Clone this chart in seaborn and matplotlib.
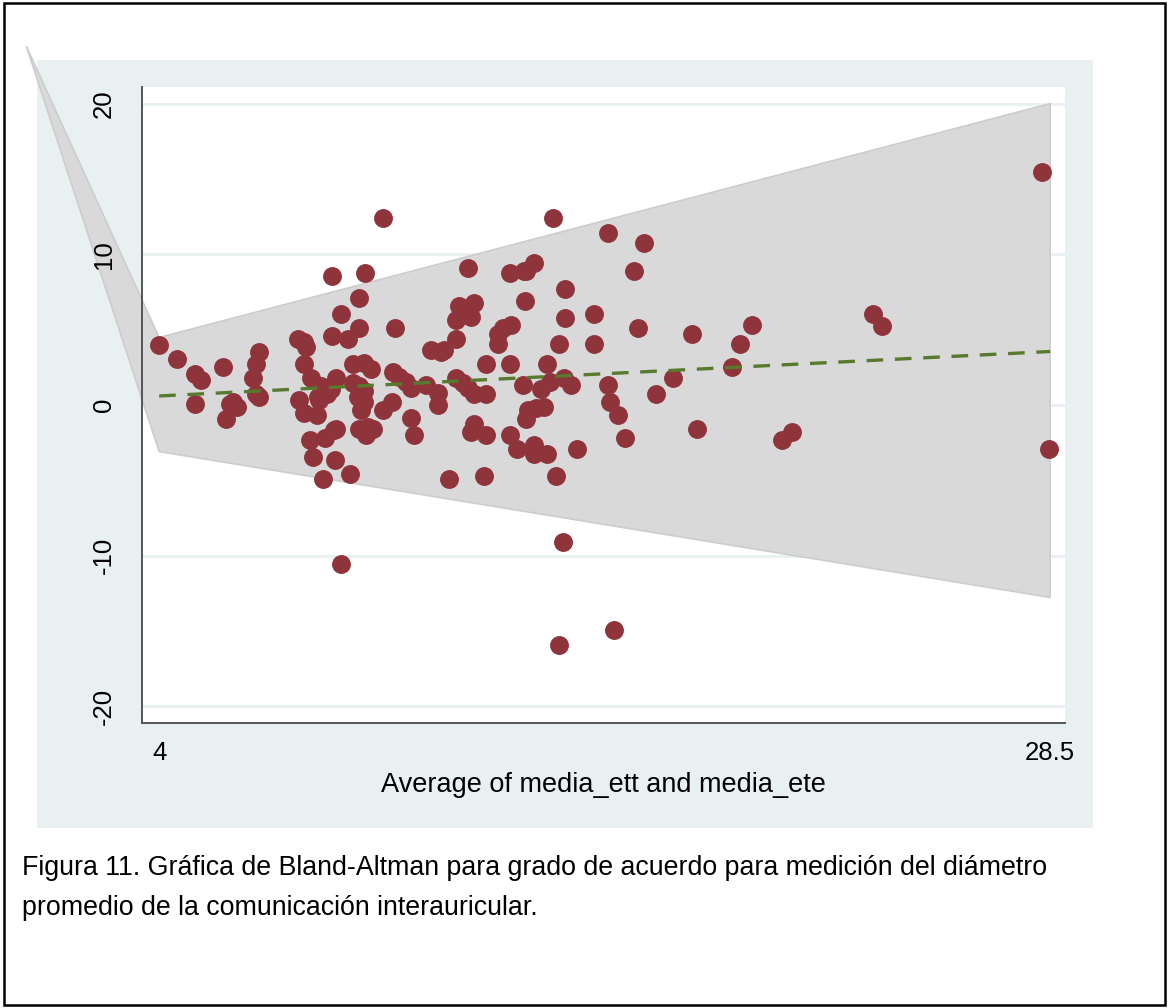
import numpy as np
import pandas as pd
import seaborn as sns
import matplotlib.pyplot as plt
from matplotlib.patches import Rectangle

# valores (promedio, diferencia)
avg_vals = [
    4.00, 4.49, 4.99, 5.15, 4.99, 5.76, 5.84, 5.95, 6.03, 6.14, 6.58, 6.66, 6.75, 6.66, 6.75,
    7.82, 7.98, 8.04, 7.98, 8.17, 7.85, 7.98, 8.34, 8.39, 8.45, 8.59, 8.37, 8.61, 8.15, 8.56,
    8.81, 8.23, 8.83, 8.50, 8.75, 8.75, 9.00, 8.86, 9.18, 9.00, 8.72,
    10.15, 9.66, 9.49, 9.49, 10.48, 9.33, 9.63, 9.82, 9.33, 9.49, 9.63, 10.43, 10.59, 10.78,
    10.92, 9.47, 9.63, 9.55, 10.40, 10.15, 10.92, 11.00, 8.86, 9.49, 9.74, 9.88, 9.69, 9.25,
    12.49, 12.24, 12.65, 12.16, 12.57, 12.16, 11.47, 11.75, 11.83, 12.98, 11.33, 11.66, 11.66,
    12.16, 12.35, 12.49, 12.65, 12.98, 12.65, 12.57, 12.98, 11.96, 12.93,
    13.31, 13.45, 13.67, 13.31, 13.64, 13.64, 14.02, 14.05, 14.08, 14.30, 14.00, 14.49, 14.74,
    13.64, 13.83, 14.13, 14.08, 14.35, 14.57, 14.30, 14.30, 14.66, 14.82, 15.15, 15.15, 14.99,
    14.66, 14.90, 15.10, 14.99,
    15.12, 15.32, 15.48, 15.97, 15.97, 16.33, 16.33, 16.39, 16.63, 16.80, 16.50, 17.05, 17.16,
    17.32, 17.65, 18.14, 18.64, 18.80,
    19.74, 19.98, 20.31, 21.14, 21.39, 23.64, 23.88, 28.28, 28.47,
]
diff_vals = [
    4.01, 3.02, 2.09, 1.69, 0.10, 2.55, -0.90, 0.10, 0.23, -0.10, 1.82, 2.75, 3.55, 0.70, 0.50,
    4.35, 4.15, 3.82, 2.75, 1.76, 0.36, -0.56, -0.63, 0.36, 1.23, 1.03, 0.56, 0.76, -2.29, -2.16,
    -1.63, -3.48, -3.62, -4.94, 8.53, 4.55, 6.01, 1.82, 4.41, -10.58, 1.03,
    12.38, 8.73, 7.07, 5.08, 5.08, 2.75, 2.82, 2.36, 1.49, 1.23, 0.90, 2.22, 1.89, 1.56,
    1.16, 0.56, 0.17, -0.30, 0.23, -0.30, -0.83, -1.96, -1.56, -1.56, -1.49, -1.56, -1.96, -4.61,
    9.06, 6.54, 6.74, 5.67, 5.81, 4.35, 3.68, 3.55, 3.68, 2.75, 1.36, 0.83, 0.03,
    1.82, 1.49, 1.16, 0.70, 0.70, -1.29, -1.82, -1.96, -4.94, -4.74,
    4.74, 5.08, 5.34, 4.08, 2.75, 8.73, 8.86, 6.87, 8.86, 9.39, 1.36, 1.03, 1.56,
    -1.96, -2.95, -0.30, -0.96, -0.17, -0.10, -2.62, -3.28, -3.28, 12.38, 7.73, 5.74, 4.08,
    2.75, -4.74, -9.12, -15.89,
    1.82, 1.36, -2.95, 6.07, 4.08, 11.38, 1.36, 0.23, -0.63, -2.22, -14.90, 8.86, 5.08,
    10.72, 0.70, 1.76, 4.74, -1.56,
    2.55, 4.08, 5.34, -2.29, -1.76, 6.07, 5.21, 15.43, -2.95,
]

# banda de límites de acuerdo (polígono tal como aparece)
band_x = [0.35, 4.0, 28.5, 28.5, 4.0]
band_y = [23.8, 4.48, 20.0, -12.77, -3.09]

# línea de diferencia media
mean_x = [4.0, 28.5]
mean_y = [0.60, 3.55]

y_ticks = [-20, -10, 0, 10, 20]
x_ticks = [4, 28.5]

df = pd.DataFrame({"avg": avg_vals, "diff": diff_vals})
df_mean = pd.DataFrame({"x": mean_x, "y": mean_y})

sns.set_theme(style="white")
plt.rcParams["font.family"] = ["Liberation Sans", "DejaVu Sans"]

fig = plt.figure(figsize=(11.69, 10.08), dpi=100, facecolor="white")

# marco exterior y región del gráfico (estilo Stata)
fig.patches.append(Rectangle((0.003, 0.003), 0.994, 0.994, transform=fig.transFigure,
                             fill=False, edgecolor="black", linewidth=1.8, zorder=-2))
fig.patches.append(Rectangle((0.0317, 0.1786), 0.9033, 0.7619, transform=fig.transFigure,
                             facecolor="#e8f0f2", edgecolor="none", zorder=-1))

ax = fig.add_axes([0.1215, 0.2827, 0.7896, 0.6310])
ax.set_zorder(1)
ax.set_facecolor("white")
ax.set_axisbelow(False)

for yt in y_ticks:
    ax.axhline(yt, color="#e8f0f2", linewidth=2, zorder=1)

ax.fill(band_x, band_y, facecolor="#d9d9d9", edgecolor="#cdcdcd", linewidth=1.2,
        zorder=2, clip_on=False)

sns.scatterplot(data=df, x="avg", y="diff", ax=ax, color="#8f343b", s=185,
                linewidth=0, zorder=3, legend=False)

sns.lineplot(data=df_mean, x="x", y="y", ax=ax, color="#587a2e", linewidth=2.4,
             dashes=False, zorder=4)
ax.lines[-1].set_dashes([5, 3.5])

ax.set_xlim(3.53, 28.91)
ax.set_ylim(-21.1, 21.1)
ax.set_xticks(x_ticks)
ax.set_xticklabels(["4", "28.5"])
ax.set_yticks(y_ticks)
ax.set_yticklabels([str(v) for v in y_ticks], rotation=90, va="center")

for side in ["top", "right"]:
    ax.spines[side].set_visible(False)
for side in ["left", "bottom"]:
    ax.spines[side].set_color("#555555")
    ax.spines[side].set_linewidth(1.4)

ax.tick_params(axis="both", direction="out", length=7, width=1.2, color="#555555",
               labelsize=18.5, labelcolor="black")
ax.tick_params(axis="y", pad=12)
ax.tick_params(axis="x", pad=6)
ax.set_xlabel("Average of media_ett and media_ete", fontsize=19.5, labelpad=5, color="black")
ax.set_ylabel("")

fig.text(0.0188, 0.139,
         "Figura 11. Gráfica de Bland-Altman para grado de acuerdo para medición del diámetro",
         fontsize=19.3, va="center", ha="left", color="black")
fig.text(0.0188, 0.0992, "promedio de la comunicación interauricular.",
         fontsize=19.3, va="center", ha="left", color="black")

plt.savefig("out.png", dpi=100)
plt.close()
